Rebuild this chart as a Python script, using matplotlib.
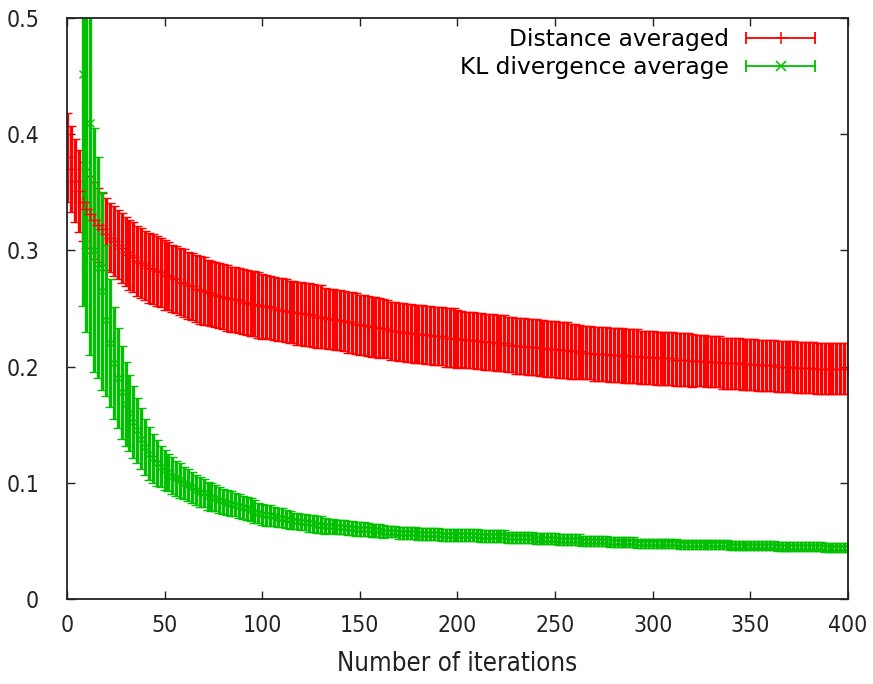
import matplotlib
matplotlib.use("Agg")
import matplotlib.pyplot as plt
import numpy as np
from matplotlib.lines import Line2D
from matplotlib.legend_handler import HandlerBase
from matplotlib import font_manager

RED = "#ff0000"
GREEN = "#00c000"

# iteration numbers (one sample every 2 iterations)
red_iter = np.arange(0, 401, 2)
green_iter = np.arange(8, 401, 2)

red_mean = [
    0.380, 0.370, 0.360, 0.351, 0.342, 0.336, 0.331, 0.326, 0.322, 0.318, 0.314,
    0.311, 0.308, 0.305, 0.302, 0.299, 0.296, 0.294, 0.291, 0.289, 0.287,
    0.285, 0.284, 0.282, 0.281, 0.279, 0.278, 0.276, 0.275, 0.273, 0.272,
    0.270, 0.269, 0.267, 0.266, 0.265, 0.264, 0.263, 0.262, 0.261, 0.260,
    0.259, 0.258, 0.258, 0.257, 0.256, 0.255, 0.254, 0.254, 0.253, 0.252,
    0.252, 0.251, 0.250, 0.249, 0.249, 0.248, 0.247, 0.247, 0.246, 0.246,
    0.245, 0.245, 0.244, 0.243, 0.243, 0.242, 0.241, 0.241, 0.240, 0.240,
    0.239, 0.238, 0.238, 0.237, 0.236, 0.236, 0.235, 0.234, 0.234, 0.233,
    0.233, 0.232, 0.231, 0.231, 0.230, 0.230, 0.229, 0.229, 0.228, 0.228,
    0.228, 0.227, 0.227, 0.226, 0.226, 0.226, 0.225, 0.225, 0.225, 0.224,
    0.224, 0.223, 0.223, 0.223, 0.222, 0.222, 0.221, 0.221, 0.221, 0.220,
    0.220, 0.220, 0.219, 0.219, 0.218, 0.218, 0.218, 0.217, 0.217, 0.217,
    0.216, 0.216, 0.215, 0.215, 0.215, 0.214, 0.214, 0.214, 0.213, 0.213,
    0.213, 0.212, 0.212, 0.212, 0.211, 0.211, 0.211, 0.211, 0.210, 0.210,
    0.210, 0.210, 0.209, 0.209, 0.209, 0.209, 0.208, 0.208, 0.208, 0.208,
    0.207, 0.207, 0.207, 0.207, 0.207, 0.206, 0.206, 0.206, 0.206, 0.205,
    0.205, 0.205, 0.205, 0.204, 0.204, 0.204, 0.204, 0.203, 0.203, 0.203,
    0.203, 0.203, 0.202, 0.202, 0.202, 0.202, 0.201, 0.201, 0.201, 0.201,
    0.201, 0.200, 0.200, 0.200, 0.200, 0.200, 0.199, 0.199, 0.199, 0.199,
    0.199, 0.198, 0.198, 0.198, 0.198, 0.198, 0.198, 0.198, 0.198, 0.198,
]
red_err = [
    0.038, 0.037, 0.036, 0.035, 0.034, 0.034, 0.033, 0.033, 0.032, 0.031, 0.031,
    0.030, 0.030, 0.030, 0.030, 0.030, 0.030, 0.030, 0.030, 0.030, 0.030,
    0.030, 0.030, 0.030, 0.030, 0.030, 0.029, 0.029, 0.029, 0.029, 0.029,
    0.029, 0.029, 0.029, 0.029, 0.029, 0.028, 0.028, 0.028, 0.028, 0.028,
    0.028, 0.028, 0.028, 0.028, 0.028, 0.028, 0.028, 0.028, 0.028, 0.028,
    0.027, 0.027, 0.027, 0.027, 0.027, 0.027, 0.027, 0.027, 0.027, 0.027,
    0.027, 0.027, 0.027, 0.027, 0.027, 0.026, 0.026, 0.026, 0.026, 0.026,
    0.026, 0.026, 0.026, 0.026, 0.026, 0.026, 0.026, 0.026, 0.026, 0.026,
    0.025, 0.025, 0.025, 0.025, 0.025, 0.025, 0.025, 0.025, 0.025, 0.025,
    0.025, 0.025, 0.025, 0.025, 0.025, 0.025, 0.025, 0.025, 0.025, 0.025,
    0.024, 0.024, 0.024, 0.024, 0.024, 0.024, 0.024, 0.024, 0.024, 0.024,
    0.024, 0.024, 0.024, 0.024, 0.024, 0.024, 0.024, 0.024, 0.024, 0.024,
    0.024, 0.024, 0.024, 0.024, 0.024, 0.024, 0.024, 0.024, 0.024, 0.024,
    0.023, 0.023, 0.023, 0.023, 0.023, 0.023, 0.023, 0.023, 0.023, 0.023,
    0.023, 0.023, 0.023, 0.023, 0.023, 0.023, 0.023, 0.023, 0.023, 0.023,
    0.023, 0.023, 0.023, 0.023, 0.023, 0.023, 0.023, 0.023, 0.023, 0.023,
    0.022, 0.022, 0.022, 0.022, 0.022, 0.022, 0.022, 0.022, 0.022, 0.022,
    0.022, 0.022, 0.022, 0.022, 0.022, 0.022, 0.022, 0.022, 0.022, 0.022,
    0.022, 0.022, 0.022, 0.022, 0.022, 0.022, 0.022, 0.022, 0.022, 0.022,
    0.022, 0.022, 0.022, 0.022, 0.022, 0.022, 0.022, 0.022, 0.022, 0.022,
]

green_mean = [
    0.452, 0.520, 0.410, 0.300, 0.285, 0.265, 0.240, 0.220,
    0.203, 0.190, 0.178, 0.168, 0.160, 0.152, 0.145, 0.138, 0.131, 0.125,
    0.121, 0.117, 0.114, 0.111, 0.109, 0.106, 0.104, 0.102, 0.100, 0.098,
    0.096, 0.094, 0.092, 0.091, 0.089, 0.088, 0.087, 0.085, 0.084, 0.083,
    0.082, 0.081, 0.080, 0.079, 0.078, 0.077, 0.075, 0.074, 0.073, 0.072,
    0.072, 0.071, 0.070, 0.070, 0.069, 0.068, 0.067, 0.067, 0.066, 0.066,
    0.065, 0.065, 0.064, 0.064, 0.063, 0.063, 0.063, 0.062, 0.062, 0.062,
    0.061, 0.061, 0.060, 0.060, 0.060, 0.060, 0.059, 0.059, 0.059, 0.058,
    0.058, 0.058, 0.058, 0.057, 0.057, 0.057, 0.057, 0.057, 0.056, 0.056,
    0.056, 0.056, 0.056, 0.056, 0.055, 0.055, 0.055, 0.055, 0.055, 0.055,
    0.055, 0.055, 0.055, 0.055, 0.054, 0.054, 0.054, 0.054, 0.054, 0.054,
    0.054, 0.053, 0.053, 0.053, 0.053, 0.053, 0.053, 0.053, 0.052, 0.052,
    0.052, 0.052, 0.052, 0.052, 0.051, 0.051, 0.051, 0.051, 0.051, 0.051,
    0.050, 0.050, 0.050, 0.050, 0.050, 0.050, 0.050, 0.049, 0.049, 0.049,
    0.049, 0.049, 0.049, 0.049, 0.048, 0.048, 0.048, 0.048, 0.048, 0.048,
    0.048, 0.048, 0.048, 0.048, 0.048, 0.047, 0.047, 0.047, 0.047, 0.047,
    0.047, 0.047, 0.047, 0.047, 0.047, 0.047, 0.047, 0.047, 0.046, 0.046,
    0.046, 0.046, 0.046, 0.046, 0.046, 0.046, 0.046, 0.046, 0.046, 0.046,
    0.045, 0.045, 0.045, 0.045, 0.045, 0.045, 0.045, 0.045, 0.045, 0.045,
    0.045, 0.045, 0.044, 0.044, 0.044, 0.044, 0.044, 0.044, 0.044,
]
green_err = [
    0.200, 0.290, 0.200, 0.105, 0.095, 0.085, 0.065, 0.055,
    0.048, 0.043, 0.040, 0.036, 0.033, 0.031, 0.028, 0.026, 0.024, 0.023,
    0.021, 0.020, 0.018, 0.017, 0.016, 0.016, 0.015, 0.015, 0.014, 0.014,
    0.013, 0.013, 0.013, 0.012, 0.012, 0.012, 0.011, 0.011, 0.011, 0.011,
    0.011, 0.010, 0.010, 0.010, 0.010, 0.010, 0.010, 0.009, 0.009, 0.009,
    0.009, 0.008, 0.008, 0.008, 0.008, 0.008, 0.007, 0.007, 0.007, 0.007,
    0.007, 0.007, 0.007, 0.007, 0.007, 0.006, 0.006, 0.006, 0.006, 0.006,
    0.006, 0.006, 0.006, 0.006, 0.006, 0.0055, 0.0055, 0.0055, 0.0055, 0.0055,
    0.005, 0.005, 0.005, 0.005, 0.005, 0.005, 0.005, 0.005, 0.005, 0.005,
    0.005, 0.005, 0.005, 0.005, 0.005, 0.005, 0.005, 0.005, 0.005, 0.005,
    0.005, 0.005, 0.005, 0.005, 0.005, 0.005, 0.005, 0.005, 0.005, 0.005,
    0.005, 0.005, 0.005, 0.005, 0.005, 0.0045, 0.0045, 0.0045, 0.0045, 0.0045,
    0.0045, 0.0045, 0.0045, 0.0045, 0.0045, 0.0045, 0.0045, 0.0045, 0.0045, 0.0045,
    0.0045, 0.0045, 0.0045, 0.0045, 0.0045, 0.004, 0.004, 0.004, 0.004, 0.004,
    0.004, 0.004, 0.004, 0.004, 0.004, 0.004, 0.004, 0.004, 0.004, 0.004,
    0.004, 0.004, 0.004, 0.004, 0.004, 0.004, 0.004, 0.004, 0.004, 0.004,
    0.004, 0.004, 0.004, 0.004, 0.004, 0.004, 0.004, 0.004, 0.004, 0.004,
    0.004, 0.004, 0.004, 0.004, 0.004, 0.004, 0.004, 0.004, 0.004, 0.004,
    0.004, 0.004, 0.004, 0.004, 0.004, 0.004, 0.004, 0.004, 0.004, 0.004,
    0.004, 0.004, 0.004, 0.004, 0.004, 0.004, 0.004, 0.004, 0.004,
]

x_ticks = [0, 50, 100, 150, 200, 250, 300, 350, 400]
y_ticks = [0, 0.1, 0.2, 0.3, 0.4, 0.5]
y_tick_labels = ["0", "0.1", "0.2", "0.3", "0.4", "0.5"]

series_labels = ["Distance averaged", "KL divergence average"]

# gnuplot used a narrow face for the axis texts; use a condensed one if there is one
narrow = [f.name for f in font_manager.fontManager.ttflist
          if f.stretch in ("condensed", "semi-condensed", "extra-condensed")
          or "Narrow" in f.name or "Condensed" in f.name]
AXIS_FONT = dict(family="DejaVu Sans", stretch="condensed") if narrow else dict(family="DejaVu Sans")
AXIS_SIZE = 16.5 if narrow else 14.5


class ErrbarHandle(HandlerBase):
    """gnuplot style key sample: line with end caps and a point marker"""
    def __init__(self, marker, ms):
        super().__init__()
        self.marker = marker
        self.ms = ms

    def create_artists(self, legend, orig_handle, xdescent, ydescent,
                       width, height, fontsize, trans):
        c = orig_handle.get_color()
        y = height / 2 - ydescent
        x0, x1 = -xdescent, -xdescent + width
        line = Line2D([x0, x1], [y, y], color=c, lw=1.3)
        caps = Line2D([x0, x1], [y, y], ls="none", marker="|", ms=8, mew=1.3, color=c)
        pt = Line2D([(x0 + x1) / 2], [y], ls="none", marker=self.marker,
                    ms=self.ms, mew=1.1, color=c)
        for a in (line, caps, pt):
            a.set_transform(trans)
        return [line, caps, pt]


fig = plt.figure(figsize=(8.73, 6.84), dpi=100)
ax = fig.add_axes([0.0767, 0.1243, 0.8947, 0.8494])

ax.errorbar(red_iter, red_mean, yerr=red_err, fmt="+", color=RED, ms=9, mew=1.0,
            elinewidth=2.4, capsize=3.4, capthick=1.2)
ax.errorbar(green_iter, green_mean, yerr=green_err, fmt="x", color=GREEN, ms=6, mew=1.0,
            elinewidth=2.4, capsize=3.4, capthick=1.2)

ax.set_xlim(0, 400)
ax.set_ylim(0, 0.5)
ax.set_xticks(x_ticks)
ax.set_xticklabels([str(v) for v in x_ticks])
ax.set_yticks(y_ticks)
ax.set_yticklabels(y_tick_labels)
ax.tick_params(axis="both", direction="in", length=6, width=1, top=True, right=True,
               labelsize=AXIS_SIZE, colors="#222222")
ax.tick_params(axis="x", pad=11)
ax.tick_params(axis="y", pad=20)
for lab in ax.get_xticklabels() + ax.get_yticklabels():
    lab.set_fontproperties(font_manager.FontProperties(size=AXIS_SIZE, **AXIS_FONT))
    lab.set_color("#222222")
for sp in ax.spines.values():
    sp.set_linewidth(1.3)
    sp.set_color("#222222")

ax.set_xlabel("Number of iterations", fontproperties=font_manager.FontProperties(
    size=18.5, **AXIS_FONT), color="#222222", labelpad=10)

proxies = [Line2D([], [], color=RED), Line2D([], [], color=GREEN)]
ax.legend(proxies, series_labels,
          handler_map={proxies[0]: ErrbarHandle("+", 9), proxies[1]: ErrbarHandle("x", 7)},
          loc="upper right", bbox_to_anchor=(0.958, 0.982), frameon=False,
          markerfirst=False, fontsize=16.8, handlelength=2.95, handletextpad=0.75,
          labelspacing=0.2, borderpad=0, borderaxespad=0)

fig.savefig("out.png", dpi=100)
